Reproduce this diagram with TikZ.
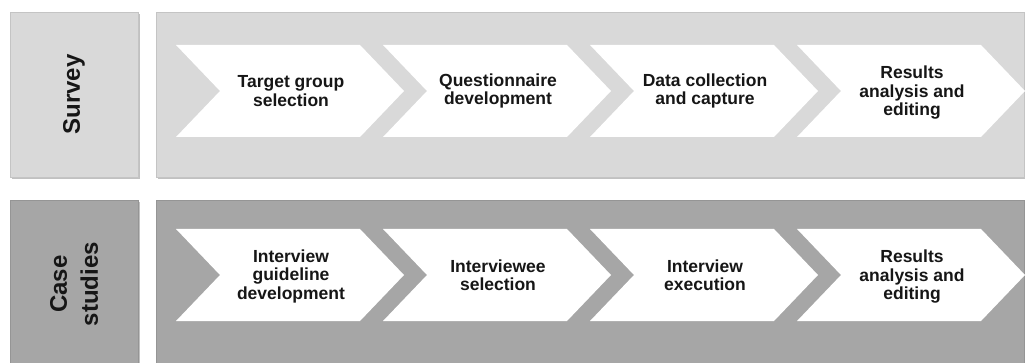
\documentclass[tikz,border=0pt]{standalone}
\usepackage{fontspec}
\setmainfont{Liberation Sans}
\usetikzlibrary{shadows}
\definecolor{lightbg}{HTML}{D9D9D9}
\definecolor{lightedge}{HTML}{C4C4C4}
\definecolor{darkbg}{HTML}{A6A6A6}
\definecolor{darkedge}{HTML}{959595}
\definecolor{txt}{HTML}{161616}
\newcommand\chevshape[2]{\fill[white] (#1,#2) -- ++(184,0) -- ++(44,46) -- ++(-44,46) -- ++(-184,0) -- ++(44,-46) -- cycle;}
\begin{document}
\begin{tikzpicture}[x=1pt,y=-1pt,
  panel/.style={line width=0.8pt, drop shadow={shadow xshift=2pt,shadow yshift=-2.5pt,opacity=.35,fill=black!70}},
  lightpanel/.style={panel, fill=lightbg, draw=lightedge},
  darkpanel/.style={panel, fill=darkbg, draw=darkedge},
  sidelabel/.style={rotate=90, align=center, text=txt, font=\bfseries\fontsize{24}{31}\selectfont},
  steplabel/.style={align=center, text=txt, font=\bfseries\fontsize{17.5}{18.5}\selectfont}]
\useasboundingbox (0,0) rectangle (1025,363);
\clip (0,0) rectangle (1025,363);
% top row
\path[lightpanel] (10,12) rectangle (138,177);
\path[lightpanel] (156,12) rectangle (1024,177);
\node[sidelabel] (survey) at (74,94.5) {Survey};
\chevshape{176}{45}
\chevshape{383}{45}
\chevshape{590}{45}
\chevshape{797}{45}
\node[steplabel] (s1) at (291,91) {Target group\\selection};
\node[steplabel] (s2) at (498,91) {Questionnaire\\development};
\node[steplabel] (s3) at (705,91) {Data collection\\and capture};
\node[steplabel] (s4) at (912,93) {Results\\analysis and\\editing};
% bottom row
\path[darkpanel] (10,200) rectangle (138,372);
\path[darkpanel] (156,200) rectangle (1024,372);
\node[sidelabel] (cases) at (74,284) {Case\\studies};
\chevshape{176}{229}
\chevshape{383}{229}
\chevshape{590}{229}
\chevshape{797}{229}
\node[steplabel] (c1) at (291,276) {Interview\\guideline\\development};
\node[steplabel] (c2) at (498,275) {Interviewee\\selection};
\node[steplabel] (c3) at (705,275) {Interview\\execution};
\node[steplabel] (c4) at (912,277) {Results\\analysis and\\editing};
\end{tikzpicture}
\end{document}
